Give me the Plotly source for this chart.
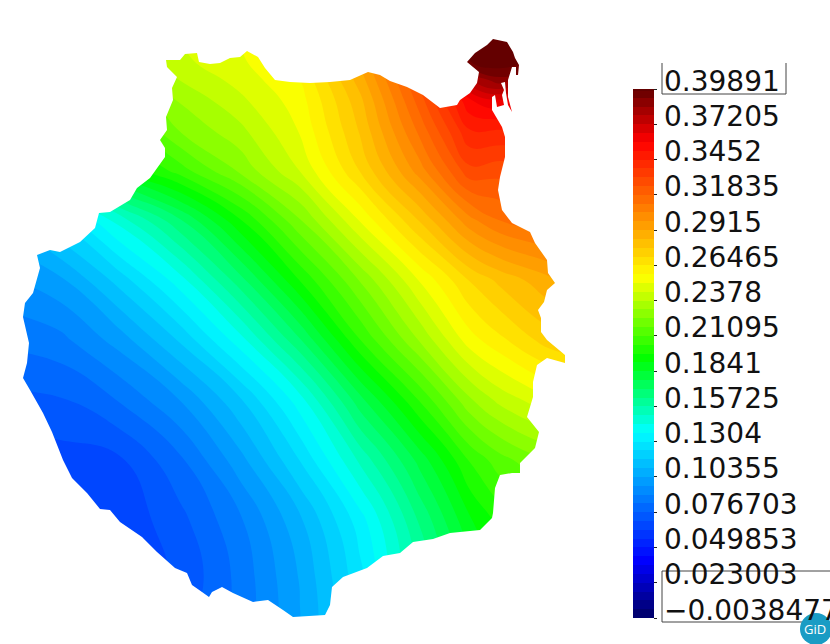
import plotly.graph_objects as go

# field values, on a picture-pixel grid
grid_x = [0, 60, 120, 180, 240, 300, 360, 420, 470, 500, 550, 600]
grid_y = [30, 60, 80, 100, 130, 170, 220, 280, 340, 400, 460, 520, 580, 640]
field = [
    [.210, .225, .238, .245, .252, .268, .300, .345, .410, .415, .420, .430],
    [.200, .218, .232, .243, .250, .262, .293, .332, .400, .405, .395, .380],
    [.190, .210, .225, .238, .247, .258, .288, .327, .378, .390, .370, .360],
    [.180, .200, .215, .232, .243, .255, .283, .322, .358, .365, .360, .350],
    [.165, .185, .205, .225, .236, .252, .279, .314, .345, .345, .345, .340],
    [.145, .165, .190, .208, .226, .245, .272, .302, .330, .328, .330, .330],
    [.110, .125, .147, .170, .197, .224, .252, .279, .303, .312, .318, .325],
    [.095, .102, .120, .141, .168, .198, .225, .252, .272, .280, .290, .300],
    [.085, .088, .100, .118, .141, .170, .204, .232, .255, .263, .275, .280],
    [.075, .076, .084, .097, .116, .141, .175, .205, .230, .240, .250, .255],
    [.066, .067, .069, .082, .101, .124, .152, .180, .205, .215, .225, .230],
    [.063, .063, .065, .0745, .089, .109, .134, .165, .190, .200, .210, .215],
    [.066, .066, .067, .071, .0855, .104, .128, .158, .180, .190, .200, .205],
    [.075, .075, .075, .076, .086, .103, .126, .150, .172, .180, .190, .195],
]

# island outline, traced clockwise in picture pixels
coast_x = [166, 180, 185, 197, 199, 210, 220, 230, 240, 247, 258, 265, 275, 290, 310, 330, 350, 368, 380,
           390, 407, 423, 440, 457, 460, 470, 477, 479, 467, 475, 487, 493, 507, 513, 515, 519, 518, 516,
           516, 512, 508, 508, 512, 508, 506, 505, 501, 504, 502, 504, 497, 495, 492, 492, 502, 505, 505,
           500, 498, 500, 502, 512, 530, 535, 547, 548, 555, 547, 544, 538, 541, 541, 547, 553, 565, 565,
           547, 537, 533, 533, 527, 539, 535, 520, 520, 512, 500, 495, 493, 492, 480, 450, 433, 413, 400,
           383, 367, 343, 332, 330, 325, 293, 283, 268, 253, 233, 222, 212, 209, 202, 192, 187, 175, 157,
           142, 120, 110, 100, 87, 72, 63, 52, 43, 30, 23, 27, 29, 23, 25, 33, 40, 37, 50, 60, 80, 95, 99,
           110, 130, 137, 150, 165, 165, 160, 167, 166, 173, 172, 177, 167]
coast_y = [60, 60, 54, 53, 62, 64, 63, 58, 57, 51, 57, 68, 80, 82, 83, 82, 80, 72, 75,
           81, 87, 95, 108, 105, 100, 93, 83, 72, 62, 53, 45, 39, 42, 52, 58, 65, 75, 75,
           67, 67, 80, 97, 112, 105, 93, 82, 83, 90, 95, 105, 107, 95, 97, 110, 127, 137, 157,
           177, 190, 200, 210, 223, 232, 243, 260, 273, 283, 290, 302, 310, 318, 332, 340, 345, 355, 363,
           358, 365, 382, 397, 417, 432, 448, 463, 473, 473, 475, 488, 513, 518, 530, 533, 539, 542, 553,
           556, 568, 577, 587, 605, 615, 617, 610, 600, 602, 593, 587, 592, 597, 592, 585, 573, 568, 552,
           537, 522, 510, 509, 493, 478, 460, 432, 413, 390, 378, 363, 343, 317, 303, 293, 268, 255, 250, 252, 242, 228, 213,
           212, 200, 188, 178, 157, 148, 140, 130, 117, 100, 88, 77, 67]

tick_values = [0.39891, 0.37205, 0.3452, 0.31835, 0.2915, 0.26465, 0.2378, 0.21095, 0.1841,
               0.15725, 0.1304, 0.10355, 0.076703, 0.049853, 0.023003, -0.0038477]
tick_labels = ["0.39891", "0.37205", "0.3452", "0.31835", "0.2915", "0.26465", "0.2378", "0.21095", "0.1841",
               "0.15725", "0.1304", "0.10355", "0.076703", "0.049853", "0.023003", "\u22120.0038477"]

band_start = -0.0038477
band_end = 0.39891
band_size = 0.0067125

rainbow = [
    [0.0, "#000064"],
    [0.108, "#0000ff"],
    [0.353, "#00ffff"],
    [0.49, "#00ff00"],
    [0.645, "#ffff00"],
    [0.90, "#ff0000"],
    [1.0, "#640000"],
]

W, H = 830, 644
bar_top, bar_len = 89, 529

fig = go.Figure()

fig.add_trace(go.Contour(
    x=grid_x, y=grid_y, z=field,
    zmin=band_start, zmax=band_end,
    colorscale=rainbow,
    autocontour=False,
    contours=dict(start=band_start, end=band_end, size=band_size, coloring="fill", showlines=False),
    line=dict(width=0, smoothing=1.3),
    hoverinfo="skip",
    colorbar=dict(
        x=633 / W, xanchor="left", xpad=0,
        y=(H - bar_top) / H, yanchor="top", ypad=0,
        lenmode="pixels", len=bar_len,
        thicknessmode="pixels", thickness=21,
        outlinewidth=0,
        tickmode="array", tickvals=tick_values, ticktext=[""] * len(tick_values),
        ticks="outside", ticklen=3, tickwidth=1, tickcolor="#222222",
    ),
))

# white sheet with an island-shaped hole
coast_path = "M" + " L".join(f"{x},{y}" for x, y in zip(coast_x, coast_y)) + " Z"
fig.add_shape(type="path", path="M0,0 L610,0 L610,644 L0,644 Z " + coast_path,
              fillrule="evenodd", fillcolor="white", line=dict(width=0), layer="above")

# the labels sit a little above their ticks in the original
for value, label in zip(tick_values, tick_labels):
    tick_y = bar_top + (band_end - value) / (band_end - band_start) * bar_len
    fig.add_annotation(x=664, y=tick_y - 8, text=label, showarrow=False,
                       xanchor="left", xshift=-2,
                       font=dict(family="DejaVu Sans", size=28, color="#111111"))

# boxes round the first and last labels
box_line = dict(color="#444444", width=1)
fig.add_shape(type="line", x0=662, x1=662, y0=63, y1=94, line=box_line)
fig.add_shape(type="line", x0=662, x1=786, y0=94, y1=94, line=box_line)
fig.add_shape(type="line", x0=786, x1=786, y0=63, y1=94, line=box_line)
fig.add_shape(type="rect", x0=662, x1=840, y0=571, y1=622, line=box_line)

# GiD badge
fig.add_shape(type="circle", x0=800, x1=832, y0=613, y1=645,
              fillcolor="#1a9cc4", line=dict(width=0), layer="above")
fig.add_annotation(x=815, y=629, text="GiD", showarrow=False,
                   font=dict(family="Open Sans", size=13, color="white"))

fig.update_xaxes(range=[0, W], visible=False, fixedrange=True)
fig.update_yaxes(range=[H, 0], visible=False, fixedrange=True)
fig.update_layout(
    width=W, height=H,
    margin=dict(l=0, r=0, t=0, b=0, autoexpand=False),
    paper_bgcolor="white", plot_bgcolor="white",
    showlegend=False,
)

fig.write_html("out.html", config=dict(displayModeBar=False),
               post_script="document.body.style.margin = '0';")
